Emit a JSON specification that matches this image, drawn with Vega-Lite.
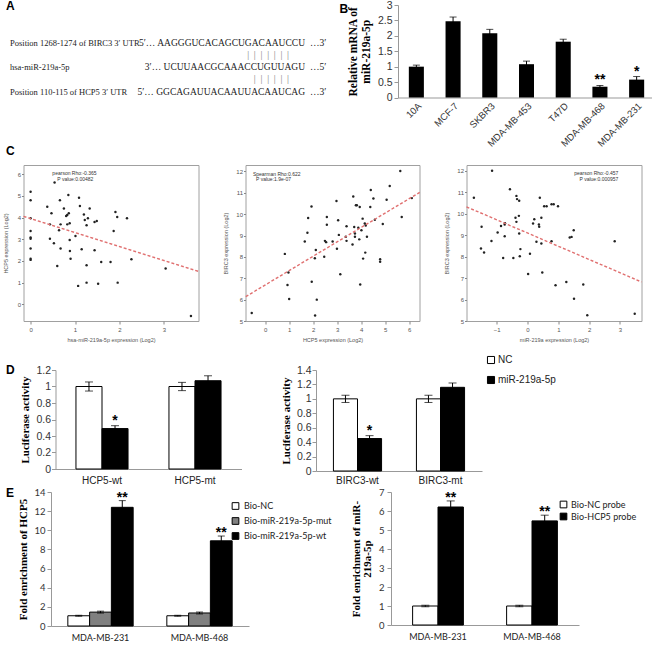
{
  "$schema": "https://vega.github.io/schema/vega-lite/v6.json",
  "padding": {"left": 2, "top": 0, "right": 0, "bottom": 0},
  "background": "white",
  "config": {
    "view": {"stroke": null},
    "font": "Liberation Sans",
    "axis": {"grid": false, "labelOverlap": false},
    "title": {"font": "Liberation Sans", "fontSize": 12, "fontWeight": "bold", "anchor": "start", "color": "black"}
  },
  "datasets": {
    "seqtext": [
      {"row": "r1", "part": "label", "text": "Position 1268-1274 of BIRC3 3′ UTR"},
      {"row": "r1", "part": "seq", "text": "5′… AAGGGUCACAGCUGACAAUCCU"},
      {"row": "r1", "part": "end", "text": "…3′"},
      {"row": "b1", "part": "pair", "text": "|\u00a0\u00a0|\u00a0\u00a0|\u00a0\u00a0|\u00a0\u00a0|\u00a0\u00a0|\u00a0\u00a0|"},
      {"row": "r2", "part": "label", "text": "hsa-miR-219a-5p"},
      {"row": "r2", "part": "seq", "text": "3′… UCUUAACGCAAACCUGUUAGU\u00a0\u00a0\u00a0"},
      {"row": "r2", "part": "end", "text": "…5′"},
      {"row": "b2", "part": "pair", "text": "|\u00a0\u00a0|\u00a0\u00a0|\u00a0\u00a0|\u00a0\u00a0|\u00a0\u00a0|"},
      {"row": "r3", "part": "label", "text": "Position 110-115 of HCP5 3′ UTR"},
      {"row": "r3", "part": "seq", "text": "5′… GGCAGAUUACAAUUACAAUCAG"},
      {"row": "r3", "part": "end", "text": "…3′"}
    ],
    "cells": [
      {"line": "10A", "value": 1.0, "lo": 0.95, "hi": 1.05},
      {"line": "MCF-7", "value": 2.47, "lo": 2.33, "hi": 2.61},
      {"line": "SKBR3", "value": 2.08, "lo": 1.95, "hi": 2.21},
      {"line": "MDA-MB-453", "value": 1.08, "lo": 0.98, "hi": 1.18},
      {"line": "T47D", "value": 1.81, "lo": 1.73, "hi": 1.89},
      {"line": "MDA-MB-468", "value": 0.35, "lo": 0.31, "hi": 0.39, "sig": "**"},
      {"line": "MDA-MB-231", "value": 0.58, "lo": 0.48, "hi": 0.68, "sig": "*"}
    ],
    "c1pts": [
      {"mir219a": 0.54, "hcp5": 5.62}, {"mir219a": 0, "hcp5": 5.2}, {"mir219a": 0, "hcp5": 4.8}, {"mir219a": 0, "hcp5": 3.97},
      {"mir219a": 0, "hcp5": 3.38}, {"mir219a": 0, "hcp5": 3.08}, {"mir219a": 0, "hcp5": 3.03}, {"mir219a": 0, "hcp5": 2.58},
      {"mir219a": 0, "hcp5": 2.1}, {"mir219a": 0, "hcp5": 2.05}, {"mir219a": 0.375, "hcp5": 4.5}, {"mir219a": 0.47, "hcp5": 4.2},
      {"mir219a": 0.435, "hcp5": 3.69}, {"mir219a": 0.435, "hcp5": 3.03}, {"mir219a": 0.525, "hcp5": 2.82}, {"mir219a": 0.6, "hcp5": 1.77},
      {"mir219a": 0.66, "hcp5": 4.8}, {"mir219a": 0.75, "hcp5": 4.42}, {"mir219a": 0.675, "hcp5": 3.69}, {"mir219a": 0.64, "hcp5": 3.42},
      {"mir219a": 0.675, "hcp5": 2.58}, {"mir219a": 0.8, "hcp5": 4.08}, {"mir219a": 0.825, "hcp5": 4.12}, {"mir219a": 0.85, "hcp5": 5.05},
      {"mir219a": 0.86, "hcp5": 4.2}, {"mir219a": 0.825, "hcp5": 3.69}, {"mir219a": 0.88, "hcp5": 3.74}, {"mir219a": 0.88, "hcp5": 2.97},
      {"mir219a": 0.885, "hcp5": 2.46}, {"mir219a": 0.9, "hcp5": 2.1}, {"mir219a": 1.01, "hcp5": 3.15}, {"mir219a": 1.07, "hcp5": 0.85},
      {"mir219a": 1.09, "hcp5": 4.92}, {"mir219a": 1.11, "hcp5": 4.54}, {"mir219a": 1.15, "hcp5": 2.54}, {"mir219a": 1.2, "hcp5": 4.15},
      {"mir219a": 1.22, "hcp5": 3.89}, {"mir219a": 1.26, "hcp5": 3.65}, {"mir219a": 1.29, "hcp5": 3.97}, {"mir219a": 1.33, "hcp5": 4.42},
      {"mir219a": 1.26, "hcp5": 1.8}, {"mir219a": 1.26, "hcp5": 1.0}, {"mir219a": 1.44, "hcp5": 3.8}, {"mir219a": 1.49, "hcp5": 3.85},
      {"mir219a": 1.44, "hcp5": 2.5}, {"mir219a": 1.52, "hcp5": 0.95}, {"mir219a": 1.59, "hcp5": 1.95}, {"mir219a": 1.8, "hcp5": 1.95},
      {"mir219a": 1.87, "hcp5": 3.38}, {"mir219a": 1.91, "hcp5": 4.26}, {"mir219a": 1.95, "hcp5": 4.03}, {"mir219a": 1.96, "hcp5": 1.0},
      {"mir219a": 2.17, "hcp5": 3.97}, {"mir219a": 2.27, "hcp5": 2.08}, {"mir219a": 3.04, "hcp5": 1.65}, {"mir219a": 3.61, "hcp5": -0.54}
    ],
    "c1fit": [{"mir219a": -0.16, "hcp5": 4.06}, {"mir219a": 3.78, "hcp5": 1.52}],
    "c2pts": [
      {"hcp5": -0.56, "birc3": 5.37}, {"hcp5": 0.82, "birc3": 8.14}, {"hcp5": 0.97, "birc3": 7.27}, {"hcp5": 0.93, "birc3": 6.68},
      {"hcp5": 1.0, "birc3": 6.03}, {"hcp5": 1.65, "birc3": 8.72}, {"hcp5": 1.76, "birc3": 9.13}, {"hcp5": 1.79, "birc3": 9.82},
      {"hcp5": 1.93, "birc3": 10.36}, {"hcp5": 1.94, "birc3": 6.84}, {"hcp5": 2.11, "birc3": 8.32}, {"hcp5": 2.07, "birc3": 7.94},
      {"hcp5": 2.15, "birc3": 6.0}, {"hcp5": 2.08, "birc3": 5.26}, {"hcp5": 2.46, "birc3": 8.01}, {"hcp5": 2.49, "birc3": 8.75},
      {"hcp5": 2.54, "birc3": 8.69}, {"hcp5": 2.57, "birc3": 9.5}, {"hcp5": 2.57, "birc3": 9.87}, {"hcp5": 2.81, "birc3": 8.72},
      {"hcp5": 2.97, "birc3": 10.62}, {"hcp5": 2.99, "birc3": 8.38}, {"hcp5": 3.04, "birc3": 9.71}, {"hcp5": 3.07, "birc3": 9.03},
      {"hcp5": 3.13, "birc3": 7.19}, {"hcp5": 3.36, "birc3": 8.94}, {"hcp5": 3.39, "birc3": 9.43}, {"hcp5": 3.39, "birc3": 8.75},
      {"hcp5": 3.64, "birc3": 8.58}, {"hcp5": 3.67, "birc3": 10.83}, {"hcp5": 3.71, "birc3": 9.4}, {"hcp5": 3.74, "birc3": 9.09},
      {"hcp5": 3.74, "birc3": 8.94}, {"hcp5": 3.78, "birc3": 10.42}, {"hcp5": 3.82, "birc3": 10.42}, {"hcp5": 3.88, "birc3": 9.36},
      {"hcp5": 3.92, "birc3": 8.82}, {"hcp5": 3.94, "birc3": 10.33}, {"hcp5": 3.96, "birc3": 6.71}, {"hcp5": 4.01, "birc3": 9.25},
      {"hcp5": 4.06, "birc3": 9.79}, {"hcp5": 4.08, "birc3": 7.92}, {"hcp5": 4.15, "birc3": 9.56}, {"hcp5": 4.17, "birc3": 8.2},
      {"hcp5": 4.19, "birc3": 9.47}, {"hcp5": 4.24, "birc3": 8.94}, {"hcp5": 4.38, "birc3": 10.33}, {"hcp5": 4.4, "birc3": 11.13},
      {"hcp5": 4.51, "birc3": 10.73}, {"hcp5": 4.57, "birc3": 9.74}, {"hcp5": 4.9, "birc3": 9.54}, {"hcp5": 4.79, "birc3": 7.89},
      {"hcp5": 4.79, "birc3": 7.77}, {"hcp5": 5.06, "birc3": 10.67}, {"hcp5": 5.19, "birc3": 11.32}, {"hcp5": 5.63, "birc3": 12.02},
      {"hcp5": 5.69, "birc3": 9.87}, {"hcp5": 6.11, "birc3": 10.75}
    ],
    "c2fit": [{"hcp5": -0.81, "birc3": 6.14}, {"hcp5": 6.44, "birc3": 11.02}],
    "c3pts": [
      {"mir219a": -1.74, "birc3": 10.74}, {"mir219a": -1.15, "birc3": 12.0}, {"mir219a": -1.49, "birc3": 9.39}, {"mir219a": -1.51, "birc3": 8.38},
      {"mir219a": -1.41, "birc3": 8.19}, {"mir219a": -1.17, "birc3": 8.73}, {"mir219a": -0.97, "birc3": 9.12}, {"mir219a": -0.86, "birc3": 9.43},
      {"mir219a": -0.74, "birc3": 9.5}, {"mir219a": -0.73, "birc3": 9.56}, {"mir219a": -0.74, "birc3": 8.95}, {"mir219a": -0.79, "birc3": 7.94},
      {"mir219a": -0.57, "birc3": 11.14}, {"mir219a": -0.46, "birc3": 7.94}, {"mir219a": -0.39, "birc3": 9.81}, {"mir219a": -0.36, "birc3": 9.62},
      {"mir219a": -0.36, "birc3": 10.83}, {"mir219a": -0.34, "birc3": 10.68}, {"mir219a": -0.28, "birc3": 9.9}, {"mir219a": -0.27, "birc3": 10.6},
      {"mir219a": -0.27, "birc3": 9.08}, {"mir219a": -0.23, "birc3": 8.35}, {"mir219a": -0.25, "birc3": 8.02}, {"mir219a": 0.02, "birc3": 7.19},
      {"mir219a": 0.08, "birc3": 8.13}, {"mir219a": 0.18, "birc3": 9.54}, {"mir219a": 0.22, "birc3": 9.74}, {"mir219a": 0.29, "birc3": 8.69},
      {"mir219a": 0.37, "birc3": 9.5}, {"mir219a": 0.38, "birc3": 9.39}, {"mir219a": 0.4, "birc3": 10.74}, {"mir219a": 0.45, "birc3": 9.81},
      {"mir219a": 0.45, "birc3": 8.61}, {"mir219a": 0.48, "birc3": 7.26}, {"mir219a": 0.54, "birc3": 10.35}, {"mir219a": 0.62, "birc3": 10.35},
      {"mir219a": 0.78, "birc3": 8.72}, {"mir219a": 0.78, "birc3": 10.44}, {"mir219a": 0.85, "birc3": 10.44}, {"mir219a": 0.91, "birc3": 6.67},
      {"mir219a": 0.99, "birc3": 10.35}, {"mir219a": 1.26, "birc3": 6.82}, {"mir219a": 1.37, "birc3": 8.89}, {"mir219a": 1.43, "birc3": 8.92},
      {"mir219a": 1.5, "birc3": 9.23}, {"mir219a": 1.51, "birc3": 6.04}, {"mir219a": 1.81, "birc3": 6.7}, {"mir219a": 1.94, "birc3": 5.27},
      {"mir219a": 2.83, "birc3": 8.72}, {"mir219a": 3.48, "birc3": 5.34}
    ],
    "c3fit": [{"mir219a": -1.98, "birc3": 10.32}, {"mir219a": 3.7, "birc3": 6.82}],
    "lucHCP5": [
      {"construct": "HCP5-wt", "group": "NC", "value": 1.0, "lo": 0.945, "hi": 1.055},
      {"construct": "HCP5-wt", "group": "miR-219a-5p", "value": 0.49, "lo": 0.455, "hi": 0.525, "sig": "*"},
      {"construct": "HCP5-mt", "group": "NC", "value": 1.0, "lo": 0.95, "hi": 1.05},
      {"construct": "HCP5-mt", "group": "miR-219a-5p", "value": 1.07, "lo": 1.01, "hi": 1.13}
    ],
    "lucBIRC3": [
      {"construct": "BIRC3-wt", "group": "NC", "value": 1.0, "lo": 0.95, "hi": 1.05},
      {"construct": "BIRC3-wt", "group": "miR-219a-5p", "value": 0.45, "lo": 0.41, "hi": 0.49, "sig": "*"},
      {"construct": "BIRC3-mt", "group": "NC", "value": 1.0, "lo": 0.95, "hi": 1.05},
      {"construct": "BIRC3-mt", "group": "miR-219a-5p", "value": 1.16, "lo": 1.1, "hi": 1.22}
    ],
    "pullHCP5": [
      {"cell": "MDA-MB-231", "probe": "Bio-NC", "value": 1.07, "lo": 1.02, "hi": 1.12},
      {"cell": "MDA-MB-231", "probe": "Bio-miR-219a-5p-mut", "value": 1.45, "lo": 1.35, "hi": 1.55},
      {"cell": "MDA-MB-231", "probe": "Bio-miR-219a-5p-wt", "value": 12.4, "lo": 11.7, "hi": 13.1, "sig": "**"},
      {"cell": "MDA-MB-468", "probe": "Bio-NC", "value": 1.07, "lo": 1.02, "hi": 1.12},
      {"cell": "MDA-MB-468", "probe": "Bio-miR-219a-5p-mut", "value": 1.36, "lo": 1.26, "hi": 1.46},
      {"cell": "MDA-MB-468", "probe": "Bio-miR-219a-5p-wt", "value": 8.9, "lo": 8.45, "hi": 9.4, "sig": "**"}
    ],
    "pullMIR": [
      {"cell": "MDA-MB-231", "probe": "Bio-NC probe", "value": 1.0, "lo": 0.96, "hi": 1.04},
      {"cell": "MDA-MB-231", "probe": "Bio-HCP5 probe", "value": 6.21, "lo": 5.9, "hi": 6.53, "sig": "**"},
      {"cell": "MDA-MB-468", "probe": "Bio-NC probe", "value": 1.0, "lo": 0.96, "hi": 1.04},
      {"cell": "MDA-MB-468", "probe": "Bio-HCP5 probe", "value": 5.48, "lo": 5.18, "hi": 5.78, "sig": "**"}
    ]
  },
  "spacing": 12,
  "resolve": {"scale": {"fill": "independent", "xOffset": "independent"}, "legend": {"fill": "independent"}},
  "vconcat": [
    {
      "spacing": -3,
      "resolve": {"scale": {"fill": "independent", "xOffset": "independent"}, "legend": {"fill": "independent"}},
      "vconcat": [
        {
          "spacing": 8,
          "resolve": {"scale": {"fill": "independent", "xOffset": "independent"}, "legend": {"fill": "independent"}},
          "hconcat": [
            {
              "width": 325, "height": 95,
              "title": {"text": "A", "frame": "group", "offset": -8, "dx": 0},
              "data": {"name": "seqtext"},
              "encoding": {
                "y": {"field": "row", "type": "nominal", "axis": null, "scale": {"type": "point", "padding": 0, "domain": ["r1", "b1", "r2", "b2", "r3"], "range": [37.5, 86.5]}}
              },
              "layer": [
                {"transform": [{"filter": "datum.part == 'label'"}],
                  "mark": {"type": "text", "align": "left", "baseline": "middle", "font": "Liberation Serif", "fontSize": 8.5, "color": "#222222"},
                  "encoding": {"x": {"datum": "left", "type": "nominal", "axis": null, "scale": {"type": "point", "padding": 0, "domain": ["left", "right"], "range": [4, 304]}}, "text": {"field": "text"}}},
                {"transform": [{"filter": "datum.part == 'seq'"}],
                  "mark": {"type": "text", "align": "right", "dx": -5, "baseline": "middle", "font": "Liberation Serif", "fontSize": 9.5, "color": "#222222"},
                  "encoding": {"x": {"datum": "right", "type": "nominal", "axis": null}, "text": {"field": "text"}}},
                {"transform": [{"filter": "datum.part == 'end'"}],
                  "mark": {"type": "text", "align": "left", "baseline": "middle", "font": "Liberation Serif", "fontSize": 9.5, "color": "#222222"},
                  "encoding": {"x": {"datum": "right", "type": "nominal", "axis": null}, "text": {"field": "text"}}},
                {"transform": [{"filter": "datum.part == 'pair'"}],
                  "mark": {"type": "text", "align": "right", "dx": -21, "baseline": "middle", "font": "Liberation Serif", "fontSize": 9.5, "color": "#777777"},
                  "encoding": {"x": {"datum": "right", "type": "nominal", "axis": null}, "text": {"field": "text"}}}
              ]
            },
            {
              "width": 257, "height": 92.5,
              "title": {"text": "B", "frame": "bounds", "offset": -15.5, "dx": -8},
              "data": {"name": "cells"},
              "encoding": {
                "x": {"field": "line", "type": "nominal", "sort": null, "scale": {"paddingInner": 0.59, "paddingOuter": 0.295},
                  "axis": {"title": null, "labelAngle": -45, "labelFontSize": 9.5, "labelColor": "#333333", "ticks": false, "domainColor": "#999999", "labelPadding": 3, "labelOverlap": false}}
              },
              "layer": [
                {"mark": {"type": "bar", "color": "black"},
                  "encoding": {"y": {"field": "value", "type": "quantitative", "scale": {"domain": [0, 3]},
                    "axis": {"values": [0, 0.5, 1, 1.5, 2, 2.5, 3], "tickCount": 20, "labelOverlap": false, "format": "~g", "title": ["Relative mRNA of", "miR-219a-5p"], "titleFont": "Liberation Serif", "titleFontWeight": "bold", "titleFontSize": 11.5, "titleColor": "black", "titleLineHeight": 13, "titlePadding": 6, "labelFontSize": 10.5, "labelColor": "#333333", "domainColor": "#999999", "tickColor": "#999999", "tickSize": 4, "labelPadding": 2}}}},
                {"mark": {"type": "rule", "color": "black"}, "encoding": {"y": {"field": "lo", "type": "quantitative"}, "y2": {"field": "hi"}}},
                {"mark": {"type": "tick", "color": "black", "size": 7, "thickness": 1}, "encoding": {"y": {"field": "hi", "type": "quantitative"}}},
                {"transform": [{"filter": "isValid(datum.sig)"}], "mark": {"type": "text", "baseline": "bottom", "dy": 2, "fontSize": 14, "fontWeight": "bold", "color": "black"}, "encoding": {"y": {"field": "hi", "type": "quantitative"}, "text": {"field": "sig"}}}
              ]
            }
          ]
        },
        {
          "spacing": -12.5,
          "resolve": {"scale": {"fill": "independent", "xOffset": "independent"}, "legend": {"fill": "independent"}},
          "hconcat": [
            {
              "width": 1, "height": 1,
              "title": {"text": "C", "frame": "group", "offset": 1.5, "dx": 0},
              "data": {"values": [{}]},
              "mark": {"type": "text", "text": ""}
            },
            {
              "spacing": 20,
              "resolve": {"scale": {"fill": "independent", "xOffset": "independent"}, "legend": {"fill": "independent"}},
              "hconcat": [
                {
                  "width": 175, "height": 156,
                  "view": {"stroke": "#a0a0a0"},
                  "layer": [
                    {"data": {"name": "c1pts"}, "mark": {"type": "circle", "size": 6, "color": "#222222", "opacity": 1},
                      "encoding": {
                        "x": {"field": "mir219a", "type": "quantitative", "scale": {"domain": [-0.16, 3.78], "nice": false, "zero": false},
                          "axis": {"values": [0, 1, 2, 3], "tickCount": 20, "format": "d", "labelOverlap": false, "title": "hsa-miR-219a-5p expression (Log2)", "titleFont": "Liberation Sans", "titleFontWeight": "normal", "titleFontSize": 5.5, "titleColor": "#555555", "titlePadding": 5, "labelFontSize": 6, "labelColor": "#555555", "tickColor": "#888888", "tickSize": 3, "labelPadding": 2, "domain": false}},
                        "y": {"field": "hcp5", "type": "quantitative", "scale": {"domain": [-0.77, 6.43], "nice": false, "zero": false},
                          "axis": {"values": [0, 1, 2, 3, 4, 5, 6], "tickCount": 20, "format": "d", "labelOverlap": false, "title": "HCP5 expression (Log2)", "titleFont": "Liberation Sans", "titleFontWeight": "normal", "titleFontSize": 5.5, "titleColor": "#555555", "titlePadding": 9, "labelFontSize": 6, "labelColor": "#555555", "tickColor": "#888888", "tickSize": 2, "labelPadding": 1, "domain": false}}
                      }},
                    {"data": {"name": "c1fit"}, "mark": {"type": "line", "color": "#e07070", "strokeDash": [3, 2], "strokeWidth": 1.4},
                      "encoding": {"x": {"field": "mir219a", "type": "quantitative"}, "y": {"field": "hcp5", "type": "quantitative"}}},
                    {"data": {"values": [{}]}, "mark": {"type": "text", "text": "pearson Rho:-0.365", "align": "left", "fontSize": 5, "color": "#333333"},
                      "encoding": {"x": {"datum": 0.49, "type": "quantitative"}, "y": {"datum": 6.06, "type": "quantitative"}}},
                    {"data": {"values": [{}]}, "mark": {"type": "text", "text": "P value:0.00482", "align": "left", "fontSize": 5, "color": "#333333"},
                      "encoding": {"x": {"datum": 0.6, "type": "quantitative"}, "y": {"datum": 5.78, "type": "quantitative"}}}
                  ]
                },
                {
                  "width": 174, "height": 156,
                  "view": {"stroke": "#a0a0a0"},
                  "layer": [
                    {"data": {"name": "c2pts"}, "mark": {"type": "circle", "size": 6, "color": "#222222", "opacity": 1},
                      "encoding": {
                        "x": {"field": "hcp5", "type": "quantitative", "scale": {"domain": [-0.82, 6.43], "nice": false, "zero": false},
                          "axis": {"values": [0, 1, 2, 3, 4, 5, 6], "tickCount": 20, "format": "d", "labelOverlap": false, "title": "HCP5 expression (Log2)", "titleFont": "Liberation Sans", "titleFontWeight": "normal", "titleFontSize": 5.5, "titleColor": "#555555", "titlePadding": 5, "labelFontSize": 6, "labelColor": "#555555", "tickColor": "#888888", "tickSize": 3, "labelPadding": 2, "domain": false}},
                        "y": {"field": "birc3", "type": "quantitative", "scale": {"domain": [5.0, 12.3], "nice": false, "zero": false},
                          "axis": {"values": [5, 6, 7, 8, 9, 10, 11, 12], "tickCount": 20, "format": "d", "labelOverlap": false, "title": "BIRC3 expression (Log2)", "titleFont": "Liberation Sans", "titleFontWeight": "normal", "titleFontSize": 5.5, "titleColor": "#555555", "titlePadding": 7, "labelFontSize": 6, "labelColor": "#555555", "tickColor": "#888888", "tickSize": 2, "labelPadding": 1, "domain": false}}
                      }},
                    {"data": {"name": "c2fit"}, "mark": {"type": "line", "color": "#e07070", "strokeDash": [3, 2], "strokeWidth": 1.4},
                      "encoding": {"x": {"field": "hcp5", "type": "quantitative"}, "y": {"field": "birc3", "type": "quantitative"}}},
                    {"data": {"values": [{}]}, "mark": {"type": "text", "text": "Spearman Rho:0.622", "align": "left", "fontSize": 5, "color": "#333333"},
                      "encoding": {"x": {"datum": -0.51, "type": "quantitative"}, "y": {"datum": 11.89, "type": "quantitative"}}},
                    {"data": {"values": [{}]}, "mark": {"type": "text", "text": "P value:1.9e-07", "align": "left", "fontSize": 5, "color": "#333333"},
                      "encoding": {"x": {"datum": -0.38, "type": "quantitative"}, "y": {"datum": 11.64, "type": "quantitative"}}}
                  ]
                },
                {
                  "width": 175, "height": 156,
                  "view": {"stroke": "#a0a0a0"},
                  "layer": [
                    {"data": {"name": "c3pts"}, "mark": {"type": "circle", "size": 6, "color": "#222222", "opacity": 1},
                      "encoding": {
                        "x": {"field": "mir219a", "type": "quantitative", "scale": {"domain": [-1.98, 3.7], "nice": false, "zero": false},
                          "axis": {"values": [-1, 0, 1, 2, 3], "tickCount": 20, "format": "d", "labelOverlap": false, "title": "miR-219a expression (Log2)", "titleFont": "Liberation Sans", "titleFontWeight": "normal", "titleFontSize": 5.5, "titleColor": "#555555", "titlePadding": 5, "labelFontSize": 6, "labelColor": "#555555", "tickColor": "#888888", "tickSize": 3, "labelPadding": 2, "domain": false}},
                        "y": {"field": "birc3", "type": "quantitative", "scale": {"domain": [5.0, 12.27], "nice": false, "zero": false},
                          "axis": {"values": [5, 6, 7, 8, 9, 10, 11, 12], "tickCount": 20, "format": "d", "labelOverlap": false, "title": "BIRC3 expression (Log2)", "titleFont": "Liberation Sans", "titleFontWeight": "normal", "titleFontSize": 5.5, "titleColor": "#555555", "titlePadding": 7, "labelFontSize": 6, "labelColor": "#555555", "tickColor": "#888888", "tickSize": 2, "labelPadding": 1, "domain": false}}
                      }},
                    {"data": {"name": "c3fit"}, "mark": {"type": "line", "color": "#e07070", "strokeDash": [3, 2], "strokeWidth": 1.4},
                      "encoding": {"x": {"field": "mir219a", "type": "quantitative"}, "y": {"field": "birc3", "type": "quantitative"}}},
                    {"data": {"values": [{}]}, "mark": {"type": "text", "text": "pearson Rho:-0.457", "align": "right", "fontSize": 5, "color": "#333333"},
                      "encoding": {"x": {"datum": 2.95, "type": "quantitative"}, "y": {"datum": 11.9, "type": "quantitative"}}},
                    {"data": {"values": [{}]}, "mark": {"type": "text", "text": "P value:0.000957", "align": "right", "fontSize": 5, "color": "#333333"},
                      "encoding": {"x": {"datum": 2.95, "type": "quantitative"}, "y": {"datum": 11.6, "type": "quantitative"}}}
                  ]
                }
              ]
            }
          ]
        }
      ]
    },
    {
      "spacing": 1,
      "resolve": {"scale": {"fill": "independent", "xOffset": "independent"}, "legend": {"fill": "independent"}},
      "vconcat": [
        {
          "spacing": 4.5,
          "resolve": {"scale": {"fill": "independent", "xOffset": "independent"}, "legend": {"fill": "independent"}},
          "hconcat": [
            {
              "width": 1, "height": 1,
              "title": {"text": "D", "frame": "group", "offset": -12, "dx": 0},
              "data": {"values": [{}]},
              "mark": {"type": "text", "text": ""}
            },
            {
              "spacing": 38.5,
              "resolve": {"scale": {"fill": "independent", "xOffset": "independent"}, "legend": {"fill": "independent"}},
              "hconcat": [
                {
                  "width": 186, "height": 99,
                  "data": {"name": "lucHCP5"},
                  "encoding": {
                    "x": {"field": "construct", "type": "nominal", "sort": null, "scale": {"paddingInner": 0.44, "paddingOuter": 0.22},
                      "axis": {"title": null, "labelAngle": 0, "labelFontSize": 10, "labelColor": "#222222", "ticks": false, "domainColor": "#999999", "labelPadding": 6, "labelOverlap": false}},
                    "xOffset": {"field": "group", "type": "nominal", "sort": null, "scale": {"domain": ["NC", "miR-219a-5p"]}}
                  },
                  "layer": [
                    {"mark": {"type": "bar", "stroke": "black", "strokeWidth": 1},
                      "encoding": {
                        "y": {"field": "value", "type": "quantitative", "scale": {"domain": [0, 1.2]},
                          "axis": {"values": [0, 0.2, 0.4, 0.6, 0.8, 1, 1.2], "tickCount": 20, "labelOverlap": false, "format": "~g", "title": "Luciferase activity", "titleFont": "Liberation Serif", "titleFontWeight": "bold", "titleFontSize": 11, "titleColor": "black", "titlePadding": 5, "labelFontSize": 10.5, "labelColor": "#333333", "domainColor": "#999999", "tickColor": "#999999", "tickSize": 4, "labelPadding": 1}},
                        "fill": {"field": "group", "type": "nominal", "scale": {"domain": ["NC", "miR-219a-5p"], "range": ["white", "black"]}, "legend": null}
                      }},
                    {"mark": {"type": "rule", "color": "black"}, "encoding": {"y": {"field": "lo", "type": "quantitative"}, "y2": {"field": "hi"}}},
                    {"mark": {"type": "tick", "color": "black", "size": 8, "thickness": 1}, "encoding": {"y": {"field": "hi", "type": "quantitative"}}},
                    {"mark": {"type": "tick", "color": "black", "size": 8, "thickness": 1}, "encoding": {"y": {"field": "lo", "type": "quantitative"}}},
                    {"transform": [{"filter": "isValid(datum.sig)"}], "mark": {"type": "text", "baseline": "bottom", "dy": 2, "fontSize": 14, "fontWeight": "bold", "color": "black"}, "encoding": {"y": {"field": "hi", "type": "quantitative"}, "text": {"field": "sig"}}}
                  ]
                },
                {
                  "width": 166, "height": 101,
                  "data": {"name": "lucBIRC3"},
                  "encoding": {
                    "x": {"field": "construct", "type": "nominal", "sort": null, "scale": {"paddingInner": 0.42, "paddingOuter": 0.21},
                      "axis": {"title": null, "labelAngle": 0, "labelFontSize": 10, "labelColor": "#222222", "ticks": false, "domainColor": "#999999", "labelPadding": 4, "labelOverlap": false}},
                    "xOffset": {"field": "group", "type": "nominal", "sort": null, "scale": {"domain": ["NC", "miR-219a-5p"]}}
                  },
                  "layer": [
                    {"mark": {"type": "bar", "stroke": "black", "strokeWidth": 1},
                      "encoding": {
                        "y": {"field": "value", "type": "quantitative", "scale": {"domain": [0, 1.4]},
                          "axis": {"values": [0, 0.2, 0.4, 0.6, 0.8, 1, 1.2, 1.4], "tickCount": 20, "labelOverlap": false, "format": "~g", "title": "Luciferase activity", "titleFont": "Liberation Serif", "titleFontWeight": "bold", "titleFontSize": 11, "titleColor": "black", "titlePadding": 5, "labelFontSize": 10.5, "labelColor": "#333333", "domainColor": "#999999", "tickColor": "#999999", "tickSize": 4, "labelPadding": 1}},
                        "fill": {"field": "group", "type": "nominal", "scale": {"domain": ["NC", "miR-219a-5p"], "range": ["white", "black"]},
                          "legend": {"orient": "none", "legendX": 170, "legendY": -15, "title": null, "symbolType": "square", "symbolSize": 50, "symbolStrokeColor": "black", "symbolStrokeWidth": 1, "labelFontSize": 10, "labelColor": "#222222", "rowPadding": 8, "padding": 0, "labelOffset": 2}}
                      }},
                    {"mark": {"type": "rule", "color": "black"}, "encoding": {"y": {"field": "lo", "type": "quantitative"}, "y2": {"field": "hi"}}},
                    {"mark": {"type": "tick", "color": "black", "size": 8, "thickness": 1}, "encoding": {"y": {"field": "hi", "type": "quantitative"}}},
                    {"mark": {"type": "tick", "color": "black", "size": 8, "thickness": 1}, "encoding": {"y": {"field": "lo", "type": "quantitative"}}},
                    {"transform": [{"filter": "isValid(datum.sig)"}], "mark": {"type": "text", "baseline": "bottom", "dy": 2, "fontSize": 14, "fontWeight": "bold", "color": "black"}, "encoding": {"y": {"field": "hi", "type": "quantitative"}, "text": {"field": "sig"}}}
                  ]
                }
              ]
            }
          ]
        },
        {
          "spacing": 2,
          "resolve": {"scale": {"fill": "independent", "xOffset": "independent"}, "legend": {"fill": "independent"}},
          "hconcat": [
            {
              "width": 1, "height": 1,
              "title": {"text": "E", "frame": "group", "offset": -13.5, "dx": 0},
              "data": {"values": [{}]},
              "mark": {"type": "text", "text": ""}
            },
            {
              "spacing": 18,
              "resolve": {"scale": {"fill": "independent", "xOffset": "independent"}, "legend": {"fill": "independent"}},
              "hconcat": [
                {
                  "width": 198, "height": 134,
                  "data": {"name": "pullHCP5"},
                  "encoding": {
                    "x": {"field": "cell", "type": "nominal", "sort": null, "scale": {"paddingInner": 0.34, "paddingOuter": 0.17},
                      "axis": {"title": null, "labelAngle": 0, "labelFont": "Lato", "labelFontSize": 9, "labelColor": "#222222", "ticks": false, "domainColor": "#999999", "labelPadding": 7, "labelOverlap": false}},
                    "xOffset": {"field": "probe", "type": "nominal", "sort": null, "scale": {"domain": ["Bio-NC", "Bio-miR-219a-5p-mut", "Bio-miR-219a-5p-wt"]}}
                  },
                  "layer": [
                    {"mark": {"type": "bar", "stroke": "black", "strokeWidth": 1},
                      "encoding": {
                        "y": {"field": "value", "type": "quantitative", "scale": {"domain": [0, 14]},
                          "axis": {"values": [0, 2, 4, 6, 8, 10, 12, 14], "tickCount": 20, "format": "d", "labelOverlap": false, "title": "Fold enrichment of HCP5", "titleFont": "Liberation Serif", "titleFontWeight": "bold", "titleFontSize": 11, "titleColor": "black", "titlePadding": 5, "labelFont": "Lato", "labelFontSize": 9.5, "labelColor": "#333333", "domainColor": "#999999", "tickColor": "#999999", "tickSize": 4, "labelPadding": 2}},
                        "fill": {"field": "probe", "type": "nominal", "scale": {"domain": ["Bio-NC", "Bio-miR-219a-5p-mut", "Bio-miR-219a-5p-wt"], "range": ["white", "#808080", "black"]},
                          "legend": {"orient": "none", "legendX": 180, "legendY": 9.5, "title": null, "symbolType": "square", "symbolSize": 45, "symbolStrokeColor": "black", "symbolStrokeWidth": 1, "labelFont": "Lato", "labelFontSize": 9, "labelColor": "#222222", "rowPadding": 4, "padding": 0, "labelOffset": 4}}
                      }},
                    {"mark": {"type": "rule", "color": "black"}, "encoding": {"y": {"field": "lo", "type": "quantitative"}, "y2": {"field": "hi"}}},
                    {"mark": {"type": "tick", "color": "black", "size": 7, "thickness": 1}, "encoding": {"y": {"field": "hi", "type": "quantitative"}}},
                    {"mark": {"type": "tick", "color": "black", "size": 7, "thickness": 1}, "encoding": {"y": {"field": "lo", "type": "quantitative"}}},
                    {"transform": [{"filter": "isValid(datum.sig)"}], "mark": {"type": "text", "baseline": "bottom", "dy": 4, "fontSize": 14, "fontWeight": "bold", "color": "black"}, "encoding": {"y": {"field": "hi", "type": "quantitative"}, "text": {"field": "sig"}}}
                  ]
                },
                {
                  "width": 188, "height": 133,
                  "data": {"name": "pullMIR"},
                  "encoding": {
                    "x": {"field": "cell", "type": "nominal", "sort": null, "scale": {"paddingInner": 0.46, "paddingOuter": 0.23},
                      "axis": {"title": null, "labelAngle": 0, "labelFont": "Lato", "labelFontSize": 9, "labelColor": "#222222", "ticks": false, "domainColor": "#999999", "labelPadding": 7, "labelOverlap": false}},
                    "xOffset": {"field": "probe", "type": "nominal", "sort": null, "scale": {"domain": ["Bio-NC probe", "Bio-HCP5 probe"]}}
                  },
                  "layer": [
                    {"mark": {"type": "bar", "stroke": "black", "strokeWidth": 1},
                      "encoding": {
                        "y": {"field": "value", "type": "quantitative", "scale": {"domain": [0, 7]},
                          "axis": {"values": [0, 1, 2, 3, 4, 5, 6, 7], "tickCount": 20, "format": "d", "labelOverlap": false, "title": ["Fold enrichment of miR-", "219a-5p"], "titleFont": "Liberation Serif", "titleFontWeight": "bold", "titleFontSize": 11, "titleLineHeight": 11, "titleColor": "black", "titlePadding": 6, "labelFont": "Lato", "labelFontSize": 9.5, "labelColor": "#333333", "domainColor": "#999999", "tickColor": "#999999", "tickSize": 4, "labelPadding": 3}},
                        "fill": {"field": "probe", "type": "nominal", "scale": {"domain": ["Bio-NC probe", "Bio-HCP5 probe"], "range": ["white", "black"]},
                          "legend": {"orient": "none", "legendX": 168, "legendY": 8, "title": null, "symbolType": "square", "symbolSize": 45, "symbolStrokeColor": "black", "symbolStrokeWidth": 1, "labelFont": "Lato", "labelFontSize": 9, "labelColor": "#222222", "rowPadding": 1, "padding": 0, "labelOffset": 3}}
                      }},
                    {"mark": {"type": "rule", "color": "black"}, "encoding": {"y": {"field": "lo", "type": "quantitative"}, "y2": {"field": "hi"}}},
                    {"mark": {"type": "tick", "color": "black", "size": 8, "thickness": 1}, "encoding": {"y": {"field": "hi", "type": "quantitative"}}},
                    {"mark": {"type": "tick", "color": "black", "size": 8, "thickness": 1}, "encoding": {"y": {"field": "lo", "type": "quantitative"}}},
                    {"transform": [{"filter": "isValid(datum.sig)"}], "mark": {"type": "text", "baseline": "bottom", "dy": 4, "fontSize": 14, "fontWeight": "bold", "color": "black"}, "encoding": {"y": {"field": "hi", "type": "quantitative"}, "text": {"field": "sig"}}}
                  ]
                }
              ]
            }
          ]
        }
      ]
    }
  ]
}
